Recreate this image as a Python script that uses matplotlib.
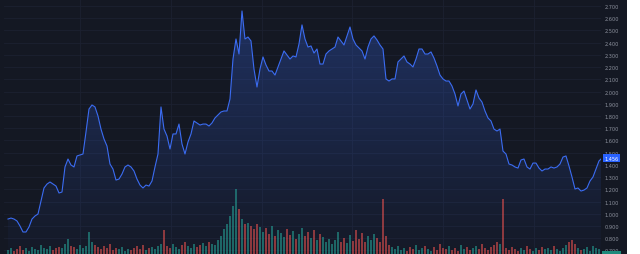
import numpy as np
import matplotlib.pyplot as plt
from matplotlib.colors import to_rgb
from matplotlib.patches import Rectangle

# daily close left to right
price = [
    0.957, 0.965, 0.957, 0.941, 0.900, 0.851, 0.851, 0.892, 0.957, 0.982,
    0.998, 1.104, 1.211, 1.243, 1.260, 1.243, 1.227, 1.170, 1.178, 1.383,
    1.448, 1.399, 1.383, 1.473, 1.481, 1.489, 1.669, 1.857, 1.890, 1.874,
    1.800, 1.693, 1.612, 1.554, 1.407, 1.366, 1.276, 1.284, 1.325, 1.383,
    1.399, 1.383, 1.350, 1.284, 1.235, 1.211, 1.235, 1.227, 1.268, 1.383,
    1.489, 1.874, 1.693, 1.636, 1.530, 1.653, 1.653, 1.734, 1.571, 1.489,
    1.587, 1.653, 1.759, 1.743, 1.726, 1.734, 1.734, 1.718, 1.743, 1.784,
    1.808, 1.833, 1.841, 1.841, 1.939, 2.266, 2.430, 2.307, 2.659, 2.430,
    2.446, 2.414, 2.184, 2.037, 2.184, 2.283, 2.217, 2.168, 2.168, 2.135,
    2.201, 2.266, 2.332, 2.299, 2.266, 2.291, 2.283, 2.389, 2.545, 2.430,
    2.364, 2.373, 2.315, 2.348, 2.225, 2.225, 2.307, 2.332, 2.348, 2.364,
    2.446, 2.414, 2.381, 2.455, 2.528, 2.430, 2.381, 2.356, 2.332, 2.266,
    2.364, 2.430, 2.455, 2.422, 2.381, 2.348, 2.103, 2.086, 2.103, 2.103,
    2.242, 2.266, 2.291, 2.242, 2.225, 2.201, 2.266, 2.348, 2.348, 2.307,
    2.307, 2.324, 2.274, 2.209, 2.135, 2.103, 2.086, 2.086, 2.045, 1.980,
    1.882, 1.980, 2.004, 1.931, 1.857, 1.898, 2.013, 1.947, 1.914, 1.841,
    1.784, 1.759, 1.693, 1.677, 1.693, 1.513, 1.489, 1.407, 1.399, 1.383,
    1.374, 1.440, 1.448, 1.383, 1.366, 1.415, 1.415, 1.374, 1.350, 1.366,
    1.366, 1.383, 1.374, 1.383, 1.407, 1.464, 1.473, 1.391, 1.301, 1.203,
    1.211, 1.186, 1.194, 1.211, 1.268, 1.301, 1.366, 1.432, 1.456,
]

# volume (thousands), same days
volume = [
    4, 6, 3, 5, 8, 4, 6, 3, 7, 5, 4, 9, 6, 5, 8, 4, 6, 7,
    6, 10, 15, 8, 7, 5, 9, 6, 8,
    22,
    12, 9, 7, 5, 8, 6, 10, 4, 6, 5, 7, 3, 5, 4, 6, 8, 5, 9, 4, 6, 7, 5, 8,
    10,
    24, 8, 6, 10, 7, 5, 9, 12, 8, 6, 10, 7, 9, 11, 8, 12, 10, 9, 14,
    18, 25, 30, 38, 48,
    65,
    45, 35, 30, 31, 28, 25, 30,
    27, 22, 26, 20, 28, 18, 24, 21, 17, 25, 19, 23, 15, 20, 26, 18, 22, 16,
    24, 14, 20, 17, 12, 15, 10, 14, 22, 12, 16, 11, 19, 13, 24, 15, 21, 12,
    18, 14, 20, 16, 12,
    55,
    18, 9, 7, 5, 8, 4, 6, 3, 7, 5, 9, 4, 6, 8, 5, 3, 7, 4, 10, 6,
    5, 8, 4, 6, 3, 9, 5, 7, 4, 6, 8, 5, 10, 6, 4, 7, 9, 12,
    10,
    55, 6, 4, 7, 5, 3, 6, 4, 8, 5, 3, 6, 4, 7, 5, 6, 4, 8, 5, 3,
    6, 9, 12, 14, 10, 6, 4, 5, 7, 3, 8, 6, 5, 4,
]

price_ticks = [0.7, 0.8, 0.9, 1.0, 1.1, 1.2, 1.3, 1.4, 1.5, 1.6, 1.7,
               1.8, 1.9, 2.0, 2.1, 2.2, 2.3, 2.4, 2.5, 2.6, 2.7]

BG = '#141823'
GRID = '#1c2131'
LINE = '#3b6cf2'
UP = '#26a69a'
DOWN = '#ef5350'
TXT = '#8d929e'

price = np.array(price)
volume = np.array(volume)
idx = np.arange(len(price))
ylo, yhi = 0.671, 2.757

fig = plt.figure(figsize=(6.4, 2.55), dpi=100, facecolor='white')
fig.patches.append(Rectangle((0, 0), 627 / 640, 1, transform=fig.transFigure,
                             facecolor=BG, edgecolor='none', zorder=-10))
fig.patches.append(Rectangle((3.5 / 640, 0), 1 / 640, 1, transform=fig.transFigure,
                             facecolor='#262b38', edgecolor='none', zorder=-9))
# last-volume marker on the price scale, cut by the bottom edge
fig.patches.append(Rectangle((602 / 640, 0), 19 / 640, 3 / 255, transform=fig.transFigure,
                             facecolor='#1f8a7c', edgecolor='none', zorder=5))

ax = fig.add_axes([4 / 640, 0, 597 / 640, 1])
ax.set_facecolor(BG)
ax.set_xlim(-1.33, 197.67)
ax.set_ylim(ylo, yhi)

# grid
for t in price_ticks:
    ax.axhline(t, color=GRID, lw=0.6, zorder=0)
for gx in [24, 54.3, 84.7, 114.7, 145, 175.3]:
    ax.axvline(gx, color=GRID, lw=0.6, zorder=0)

# gradient area under the line
rgba = np.zeros((256, 1, 4))
rgba[..., :3] = to_rgb(LINE)
rgba[..., 3] = np.linspace(0.02, 0.30, 256)[:, None]
im = ax.imshow(rgba, extent=[idx[0], idx[-1], ylo, price.max()], origin='lower',
               aspect='auto', zorder=1, interpolation='bilinear')
area = ax.fill_between(idx, price, ylo, facecolor='none', edgecolor='none')
im.set_clip_path(area.get_paths()[0], transform=ax.transData)
ax.plot(idx, price, color=LINE, lw=0.8, zorder=3)

ax.yaxis.tick_right()
ax.set_yticks(price_ticks)
ax.set_yticklabels([f'{t:.3f}' for t in price_ticks])
ax.tick_params(axis='y', length=0, pad=2.5, labelsize=3.6, labelcolor=TXT)
ax.set_xticks([])
for s in ax.spines.values():
    s.set_visible(False)

# last price label
ax.annotate(f'{price[-1]:.3f}', xy=(1.0, price[-1]), xycoords=('axes fraction', 'data'),
            xytext=(2.5, 0), textcoords='offset points', ha='left', va='center',
            fontsize=3.6, color='white',
            bbox=dict(boxstyle='square,pad=0.35', fc='#2962ff', ec='none'))

# volume overlay
vax = fig.add_axes([4 / 640, 0, 597 / 640, 1], sharex=ax)
vax.patch.set_alpha(0)
vax.axis('off')
vax.set_ylim(0, volume.max() * 255 / 65)
colors = [UP if i == 0 or price[i] >= price[i - 1] else DOWN for i in idx]
vax.bar(idx, volume, width=0.75, color=colors, alpha=0.55, linewidth=0)

plt.savefig('out.png', dpi=100, facecolor=fig.get_facecolor())
